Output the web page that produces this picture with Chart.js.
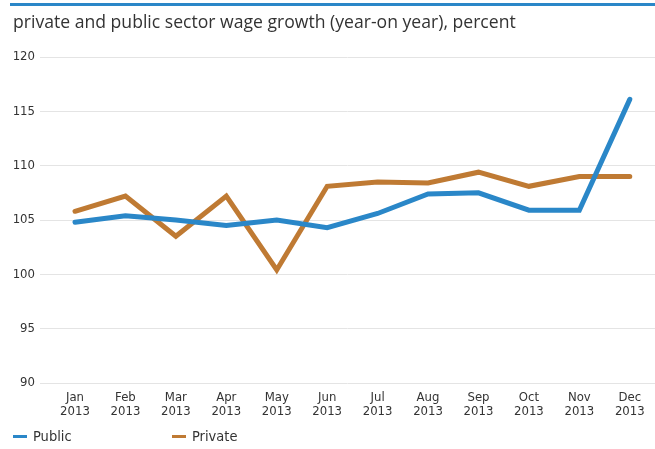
<!DOCTYPE html>
<html>
<head>
<meta charset="utf-8">
<script src="https://cdn.jsdelivr.net/npm/chart.js@4.4.1/dist/chart.umd.min.js"></script>
<style>
  html, body { margin: 0; padding: 0; background: #fff; }
  #wrap { position: relative; width: 655px; height: 449px; overflow: hidden; }
  #topBar { position: absolute; left: 10px; top: 3px; width: 645px; height: 3px; background: #2a87c8; }
  #title { position: absolute; left: 13px; top: 9px; font-family: "Open Sans", sans-serif; font-size: 17.6px; color: #333; white-space: nowrap; }
  #chart { position: absolute; left: 0; top: 0; }
  #legend { position: absolute; left: 0; top: 428px; font-family: "DejaVu Sans Condensed", sans-serif; font-size: 14.5px; color: #333; }
  .item { position: absolute; display: flex; align-items: center; white-space: nowrap; }
  .swatch { width: 14px; height: 3px; margin-right: 6px; }
</style>
</head>
<body>
<div id="wrap">
  <canvas id="chart" width="655" height="449"></canvas>
  <div id="topBar"></div>
  <div id="title">private and public sector wage growth (year-on year), percent</div>
  <div id="legend"></div>
</div>
<script>
// months along the x axis (two-line labels)
const months = ['Jan', 'Feb', 'Mar', 'Apr', 'May', 'Jun', 'Jul', 'Aug', 'Sep', 'Oct', 'Nov', 'Dec'];
const year = '2013';

// wage index, same month previous year = 100
const publicWages = [104.8, 105.4, 105.0, 104.5, 105.0, 104.3, 105.6, 107.4, 107.5, 105.9, 105.9, 116.1];
const privateWages = [105.8, 107.2, 103.5, 107.2, 100.4, 108.1, 108.5, 108.4, 109.4, 108.1, 109.0, 109.0];

const yTicks = [90, 95, 100, 105, 110, 115, 120];

const seriesNames = ['Public', 'Private'];
const seriesColors = ['#2a87c8', '#bf7a33'];

const toPoints = arr => arr.map((v, i) => ({ x: i, y: v }));

const tickFont = { family: 'DejaVu Sans Condensed', size: 13 };

const ctx = document.getElementById('chart').getContext('2d');
new Chart(ctx, {
    type: 'line',
    data: {
        datasets: [
            { label: seriesNames[0], data: toPoints(publicWages), borderColor: seriesColors[0], borderWidth: 5, pointRadius: 0, tension: 0, borderCapStyle: 'round', borderJoinStyle: 'miter' },
            { label: seriesNames[1], data: toPoints(privateWages), borderColor: seriesColors[1], borderWidth: 5, pointRadius: 0, tension: 0, borderCapStyle: 'round', borderJoinStyle: 'miter' }
        ]
    },
    options: {
        responsive: false,
        animation: false,
        layout: { padding: { top: 57, right: 0, bottom: 0, left: 0 } },
        plugins: { legend: { display: false }, tooltip: { enabled: false } },
        scales: {
            x: {
                type: 'linear',
                min: -0.694,
                max: 11.5,
                grid: { display: false },
                border: { display: false },
                afterBuildTicks: axis => { axis.ticks = months.map((m, i) => ({ value: i })); },
                afterFit: axis => { axis.height = 66; },
                ticks: {
                    padding: 0,
                    maxRotation: 0,
                    autoSkip: false,
                    color: '#333',
                    font: { ...tickFont, lineHeight: 1.05 },
                    callback: v => [months[v], year]
                }
            },
            y: {
                min: 90,
                max: 120,
                afterBuildTicks: axis => { axis.ticks = yTicks.map(v => ({ value: v })); },
                afterFit: axis => { axis.width = 40; },
                grid: { color: '#e4e4e4', lineWidth: 1, drawTicks: false },
                border: { display: false },
                ticks: {
                    padding: 5,
                    color: '#333',
                    font: tickFont
                }
            }
        }
    }
});

// legend below the chart
const legend = document.getElementById('legend');
const legendX = [13, 172];
seriesNames.forEach((name, i) => {
    const item = document.createElement('div');
    item.className = 'item';
    item.style.left = legendX[i] + 'px';
    const sw = document.createElement('div');
    sw.className = 'swatch';
    sw.style.background = seriesColors[i];
    const label = document.createElement('span');
    label.textContent = name;
    item.appendChild(sw);
    item.appendChild(label);
    legend.appendChild(item);
});
</script>
</body>
</html>
